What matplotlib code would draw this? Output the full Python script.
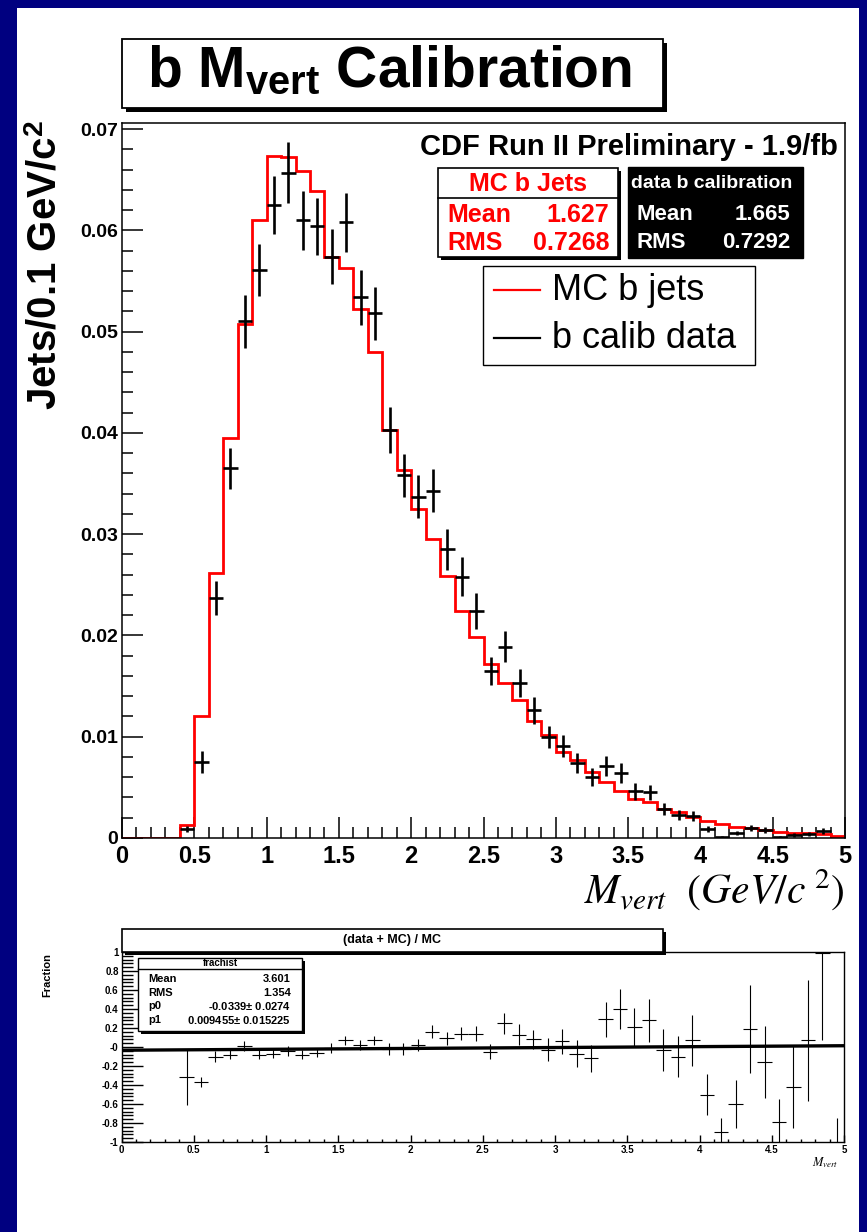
import numpy as np
import matplotlib
matplotlib.use("Agg")
import matplotlib.pyplot as plt
from matplotlib.patches import Rectangle
from matplotlib.lines import Line2D
from matplotlib.ticker import MultipleLocator, FormatStrFormatter

# MC b jets histogram, bins of 0.1 GeV/c^2 from 0 to 5
mc_edges = np.linspace(0, 5, 51)
mc_vals = [0, 0, 0, 0, 0.0013, 0.0120, 0.0262, 0.0395, 0.0508, 0.0610,
           0.0673, 0.0672, 0.0659, 0.0639, 0.0574, 0.0563, 0.0522, 0.0480, 0.0403, 0.0363,
           0.0325, 0.0295, 0.0259, 0.0224, 0.0198, 0.0172, 0.0153, 0.0136, 0.0116, 0.0102,
           0.0085, 0.0077, 0.0065, 0.0055, 0.0046, 0.0039, 0.0036, 0.0029, 0.0026, 0.0021,
           0.0017, 0.0014, 0.0011, 0.0010, 0.0008, 0.0006, 0.0005, 0.0005, 0.0004, 0.0002]

# b calib data points
data_x = np.arange(0.45, 4.86, 0.1)
data_vals = [0.0009, 0.0075, 0.0237, 0.0365, 0.0510, 0.0561, 0.0625, 0.0657, 0.0610, 0.0604,
             0.0574, 0.0608, 0.0534, 0.0518, 0.0403, 0.0358, 0.0337, 0.0343, 0.0285, 0.0258,
             0.0224, 0.0165, 0.0189, 0.0153, 0.0126, 0.0100, 0.0091, 0.0074, 0.0060, 0.0071,
             0.0064, 0.0046, 0.0045, 0.0029, 0.0023, 0.0022, 0.0009, 0.0001, 0.0005, 0.0010,
             0.0008, 0.0001, 0.0003, 0.0004, 0.0007]
data_err = [0.0003, 0.0011, 0.0017, 0.0020, 0.0026, 0.0026, 0.0029, 0.0030, 0.0029, 0.0028,
            0.0027, 0.0029, 0.0027, 0.0026, 0.0023, 0.0021, 0.0021, 0.0021, 0.0020, 0.0019,
            0.0018, 0.0014, 0.0015, 0.0014, 0.0013, 0.0011, 0.0011, 0.0010, 0.0009, 0.0010,
            0.0010, 0.0008, 0.0007, 0.0006, 0.0005, 0.0005, 0.0003, 0.0001, 0.0002, 0.0003,
            0.0003, 0.0001, 0.0002, 0.0002, 0.0003]

# fraction panel
frac_x = np.arange(0.45, 4.96, 0.1)
frac_vals = [-0.32, -0.37, -0.10, -0.08, 0.01, -0.08, -0.07, -0.04, -0.08, -0.06,
             -0.01, 0.07, 0.02, 0.07, -0.02, -0.02, 0.02, 0.16, 0.09, 0.14,
             0.14, -0.05, 0.25, 0.13, 0.08, -0.03, 0.06, -0.07, -0.12, 0.29,
             0.40, 0.21, 0.28, -0.03, -0.10, 0.07, -0.50, -0.89, -0.60, 0.19,
             -0.16, -0.79, -0.42, 0.07, 0.99, -1.05]
frac_err = [0.29, 0.05, 0.06, 0.05, 0.05, 0.05, 0.05, 0.05, 0.05, 0.05,
            0.05, 0.05, 0.05, 0.05, 0.06, 0.06, 0.06, 0.07, 0.07, 0.07,
            0.08, 0.08, 0.11, 0.11, 0.10, 0.12, 0.13, 0.14, 0.14, 0.18,
            0.21, 0.20, 0.23, 0.22, 0.22, 0.27, 0.22, 0.14, 0.25, 0.46,
            0.38, 0.24, 0.43, 0.64, 0.92, 0.30]
fit_p0 = -0.0339
fit_p1 = 0.009455
frac_yticks = [-1, -0.8, -0.6, -0.4, -0.2, 0, 0.2, 0.4, 0.6, 0.8, 1]
frac_ylabels = ['-1', '-0.8', '-0.6', '-0.4', '-0.2', '-0', '0.2', '0.4', '0.6', '0.8', '1']

mc_stats = [('Mean', '1.627'), ('RMS', '0.7268')]
data_stats = [('Mean', '1.665'), ('RMS', '0.7292')]
frac_stats = [('Mean', '3.601'), ('RMS', '1.354'),
              ('p0', '-0.0339$\\pm$ 0.0274'), ('p1', '0.009455$\\pm$ 0.015225')]

plt.rcParams['font.family'] = ['Liberation Sans', 'DejaVu Sans']
plt.rcParams['mathtext.fontset'] = 'custom'
plt.rcParams['mathtext.rm'] = 'Liberation Sans:bold'
plt.rcParams['mathtext.bf'] = 'Liberation Sans:bold'
plt.rcParams['mathtext.it'] = 'Liberation Serif:italic'
plt.rcParams['mathtext.sf'] = 'Liberation Sans'

W, H = 867, 1232
fig = plt.figure(figsize=(W / 100, H / 100), dpi=100)
fig.patch.set_facecolor('#000080')


def fx(px):
    return px / W


def fy(py):
    return 1 - py / H


def rect(x0, y0, x1, y1):
    return [fx(x0), fy(y1), (x1 - x0) / W, (y1 - y0) / H]


def box(x0, y0, x1, y1, face='white', shadow=3, lw=1.2, z=5):
    if shadow:
        fig.add_artist(Rectangle((fx(x0 + shadow), fy(y1 + shadow)), (x1 - x0) / W, (y1 - y0) / H,
                                 transform=fig.transFigure, facecolor='black', edgecolor='none', zorder=z))
    fig.add_artist(Rectangle((fx(x0), fy(y1)), (x1 - x0) / W, (y1 - y0) / H,
                             transform=fig.transFigure, facecolor=face, edgecolor='black',
                             lw=lw, zorder=z + 0.1))


def hline(x0, x1, y, color='black', lw=1.0, z=6):
    fig.add_artist(Line2D([fx(x0), fx(x1)], [fy(y), fy(y)], transform=fig.transFigure,
                          color=color, lw=lw, zorder=z))


def txt(x, y, s, **kw):
    kw.setdefault('zorder', 7)
    return fig.text(fx(x), fy(y), s, **kw)


# white page
fig.add_artist(Rectangle((fx(17), fy(1232)), (859 - 17) / W, (1232 - 8) / H,
                         transform=fig.transFigure, facecolor='white', edgecolor='none', zorder=-1))

# ---------- main panel ----------
ax = fig.add_axes(rect(122, 123, 845, 838))
ax.stairs(mc_vals, mc_edges, color='red', linewidth=2.0, zorder=2)
ax.errorbar(data_x, data_vals, yerr=data_err, xerr=0.05, fmt='none',
            ecolor='black', elinewidth=1.9, capsize=0, zorder=3)
ax.set_xlim(0, 5)
ax.set_ylim(0, 0.0706)
ax.xaxis.set_major_locator(MultipleLocator(0.5))
ax.xaxis.set_minor_locator(MultipleLocator(0.1))
ax.yaxis.set_major_locator(MultipleLocator(0.01))
ax.yaxis.set_minor_locator(MultipleLocator(0.002))
ax.xaxis.set_major_formatter(FormatStrFormatter('%g'))
ax.yaxis.set_major_formatter(FormatStrFormatter('%g'))
ax.tick_params(which='both', direction='in', width=1.1)
ax.tick_params(which='major', length=15)
ax.tick_params(which='minor', length=8)
ax.tick_params(axis='y', labelsize=14, pad=3)
ax.tick_params(axis='x', labelsize=17, pad=5)
for lab in ax.get_xticklabels() + ax.get_yticklabels():
    lab.set_fontweight('bold')
for sp in ax.spines.values():
    sp.set_linewidth(1.1)

txt(46, 120, r'Jets/0.1 GeV/c$^{2}$', rotation=90, ha='center', va='top',
    fontsize=29, fontweight='bold')
txt(845, 890, r'$M_{vert}\ \ (GeV/c^{\ 2})$', ha='right', va='center', fontsize=30,
    math_fontfamily='stix')
txt(838, 147, 'CDF Run II Preliminary - 1.9/fb', ha='right', va='center',
    fontsize=21, fontweight='bold')

# title box
box(121.5, 39, 663, 108, shadow=4, lw=1.3)
txt(390, 72, r'b M$_{\mathrm{vert}}$ Calibration', ha='center', va='center',
    fontsize=41, fontweight='bold')

# MC stat box
box(438, 168, 618, 257, shadow=3, lw=1.2)
hline(438, 618, 198, lw=1.2)
txt(528, 184, 'MC b Jets', ha='center', va='center', fontsize=18, fontweight='bold', color='red')
for i, (k, v) in enumerate(mc_stats):
    yy = 215 + i * 28
    txt(447, yy, k, ha='left', va='center', fontsize=18, fontweight='bold', color='red')
    txt(609, yy, v, ha='right', va='center', fontsize=18, fontweight='bold', color='red')

# data stat box
box(628, 167, 803, 258, face='black', shadow=0, lw=1.0)
txt(712, 183, 'data b calibration', ha='center', va='center', fontsize=14,
    fontweight='bold', color='white')
for i, (k, v) in enumerate(data_stats):
    yy = 215 + i * 28
    txt(637, yy, k, ha='left', va='center', fontsize=16, fontweight='bold', color='white')
    txt(790, yy, v, ha='right', va='center', fontsize=16, fontweight='bold', color='white')

# legend
box(483, 266, 755, 365, shadow=0, lw=1.0)
hline(494, 540, 290, color='red', lw=1.6)
txt(552, 290, 'MC b jets', ha='left', va='center', fontsize=26)
hline(494, 540, 338, color='black', lw=1.6)
txt(552, 338, 'b calib data', ha='left', va='center', fontsize=26)

# ---------- fraction panel ----------
ax2 = fig.add_axes(rect(121.5, 952, 844, 1142))
ax2.errorbar(frac_x, frac_vals, yerr=frac_err, xerr=0.05, fmt='none',
             ecolor='black', elinewidth=0.8, capsize=0, zorder=3)
fit_x = np.array([0.0, 5.0])
ax2.plot(fit_x, fit_p0 + fit_p1 * fit_x, color='black', lw=2.4, zorder=4)
ax2.set_xlim(0, 5)
ax2.set_ylim(-1, 1)
ax2.xaxis.set_major_locator(MultipleLocator(0.5))
ax2.xaxis.set_minor_locator(MultipleLocator(0.1))
ax2.xaxis.set_major_formatter(FormatStrFormatter('%g'))
ax2.set_yticks(frac_yticks)
ax2.set_yticklabels(frac_ylabels)
ax2.yaxis.set_minor_locator(MultipleLocator(0.04))
ax2.tick_params(which='both', direction='in', width=1.0, labelsize=7, pad=2)
ax2.tick_params(axis='y', which='major', length=15)
ax2.tick_params(axis='y', which='minor', length=8)
ax2.tick_params(axis='x', which='major', length=5)
ax2.tick_params(axis='x', which='minor', length=2.5)
for lab in ax2.get_xticklabels() + ax2.get_yticklabels():
    lab.set_fontweight('bold')
for sp in ax2.spines.values():
    sp.set_linewidth(1.0)

txt(47, 953, 'Fraction', rotation=90, ha='center', va='top', fontsize=8, fontweight='bold')
txt(838, 1163, r'$M_{vert}$', ha='right', va='center', fontsize=9, math_fontfamily='stix')

box(121.5, 929, 663, 952, shadow=3, lw=1.2)
txt(392, 940, '(data + MC) / MC', ha='center', va='center', fontsize=9, fontweight='bold')

box(138, 958, 302, 1031, shadow=3, lw=1.0)
hline(138, 302, 968.5, lw=1.0)
txt(220, 963, 'frachist', ha='center', va='center', fontsize=7, fontweight='bold')
for i, (k, v) in enumerate(frac_stats):
    yy = 979 + i * 13.7
    txt(148, yy, k, ha='left', va='center', fontsize=8, fontweight='bold')
    txt(291, yy, v, ha='right', va='center', fontsize=8, fontweight='bold')

fig.savefig('out.png', dpi=100, facecolor=fig.get_facecolor())
